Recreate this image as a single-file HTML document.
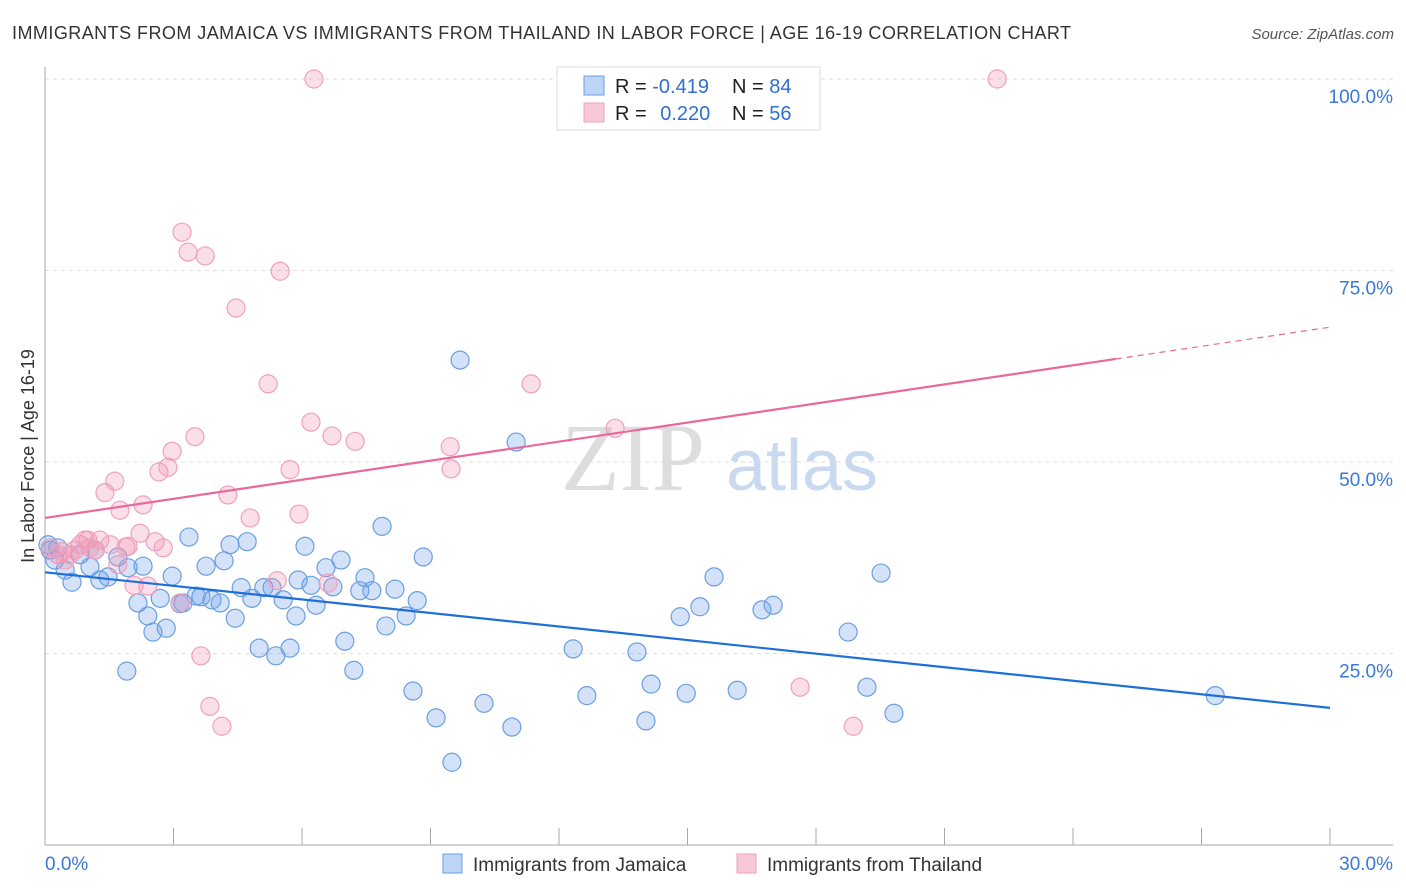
<!DOCTYPE html>
<html><head><meta charset="utf-8"><style>
body{margin:0;background:#fff;font-family:"Liberation Sans",sans-serif;}
#wrap{position:relative;width:1406px;height:892px;overflow:hidden;}
</style></head><body>
<div id="wrap">
<svg id="svg" width="1406" height="892" xmlns="http://www.w3.org/2000/svg">
<text x="12" y="39" font-size="18" fill="#333" textLength="1059" lengthAdjust="spacing">IMMIGRANTS FROM JAMAICA VS IMMIGRANTS FROM THAILAND IN LABOR FORCE | AGE 16-19 CORRELATION CHART</text>
<text x="1394" y="39" font-size="15" fill="#555" font-style="italic" text-anchor="end">Source: ZipAtlas.com</text>
<text x="633" y="490" font-size="96" fill="#ddd" font-family="Liberation Serif,serif" text-anchor="middle">ZIP</text>
<text x="802" y="490" font-size="72" fill="#c8d9f0" text-anchor="middle">atlas</text>
<g id="grid"></g><g id="axes"></g><g id="pts"></g><g id="lines"></g>
<text transform="translate(34,456) rotate(-90)" font-size="18" fill="#333" text-anchor="middle">In Labor Force | Age 16-19</text>
<rect x="557" y="67" width="263" height="63" fill="#fff" stroke="#ddd"/>
<rect x="584" y="76" width="20" height="19" fill="#bcd4f5" stroke="#6a9fe0"/>
<rect x="584" y="103" width="20" height="19" fill="#f8c8d8" stroke="#f0a0bc"/>
<text x="615" y="93" font-size="20" fill="#222">R = <tspan fill="#2f6fd0">-0.419</tspan></text>
<text x="732" y="93" font-size="20" fill="#222">N = <tspan fill="#2f6fd0">84</tspan></text>
<text x="615" y="120" font-size="20" fill="#222">R = <tspan fill="#2f6fd0" dx="8">0.220</tspan></text>
<text x="732" y="120" font-size="20" fill="#222">N = <tspan fill="#2f6fd0">56</tspan></text>
<rect x="443" y="854" width="19" height="19" fill="#bcd4f5" stroke="#6a9fe0"/>
<text x="473" y="871" font-size="19" fill="#333">Immigrants from Jamaica</text>
<rect x="737" y="854" width="19" height="19" fill="#f8c8d8" stroke="#f0a0bc"/>
<text x="767" y="871" font-size="19" fill="#333">Immigrants from Thailand</text>
</svg></div>
<script>
const yTicks=[25,50,75,100];
const yTickLabels=["25.0%","50.0%","75.0%","100.0%"];
const xTicks=[0,3,6,9,12,15,18,21,24,27,30];
const blueX=[0.12,0.23,0.47,0.63,0.82,1.05,1.28,1.47,1.70,1.94,1.91,2.17,2.29,2.40,2.52,2.69,2.83,2.97,3.15,3.22,3.36,3.53,3.64,3.76,3.90,4.09,4.18,4.32,4.44,4.58,4.72,4.83,5.00,5.11,5.30,5.39,5.56,5.72,5.86,5.91,6.07,6.21,6.33,6.56,6.72,6.91,7.00,7.21,7.35,7.47,7.63,7.87,7.96,8.17,8.43,8.59,8.69,8.83,9.13,9.50,10.25,10.90,11.00,9.69,12.33,12.65,13.82,14.03,14.15,14.83,14.97,15.29,15.62,16.16,16.74,17.00,18.75,19.19,19.52,19.82,27.32,0.07,0.30,1.17];
const blueY=[38.5,37.2,35.9,34.3,37.9,36.3,34.6,35.0,37.6,36.2,22.7,31.6,36.4,29.9,27.8,32.2,28.3,35.1,31.5,31.6,40.2,32.5,32.4,36.4,32.0,31.6,37.1,39.2,29.6,33.6,39.6,32.2,25.7,33.6,33.6,24.7,32.0,25.7,29.9,34.6,39.0,33.9,31.3,36.2,33.7,37.2,26.6,22.8,33.2,34.9,33.2,41.6,28.6,33.4,29.9,20.1,31.9,37.6,16.6,10.8,18.5,15.4,52.6,63.3,25.6,19.5,25.2,16.2,21.0,29.8,19.8,31.1,35.0,20.2,30.7,31.3,27.8,20.6,35.5,17.2,19.5,39.2,38.8,38.5];
const pinkX=[0.12,0.30,0.40,0.58,0.82,1.00,1.17,1.28,1.40,1.52,1.63,1.75,1.89,1.94,2.08,2.22,2.29,2.40,2.57,2.66,2.76,2.87,2.97,3.15,3.20,3.34,3.50,3.64,3.74,3.85,4.13,4.27,4.46,4.79,5.21,5.42,5.49,5.72,5.93,6.21,6.28,6.61,6.70,7.24,9.46,9.48,11.35,13.31,17.63,18.87,22.23,1.05,0.70,0.93,0.47,1.70];
const pinkY=[38.8,37.9,38.3,37.9,39.2,39.8,38.5,39.8,46.0,39.2,47.5,43.7,38.9,39.0,33.9,40.7,44.4,33.8,39.6,48.7,38.8,49.3,51.4,31.6,80.0,77.4,53.3,24.7,76.9,18.1,15.5,45.7,70.1,42.7,60.2,34.5,74.9,49.0,43.2,55.2,100,34.2,53.4,52.7,52.0,49.1,60.2,54.4,20.6,15.5,100,38.8,38.5,39.8,37.2,36.6];
const blueTrend=[35.6,17.9];
const pinkTrend=[42.7,67.6];
const pinkSolidEnd=25.0;
const NS="http://www.w3.org/2000/svg";
const X0=45,X1=1330,Y0=845,Y100=79;
const sx=v=>X0+(v/30)*(X1-X0);
const sy=v=>Y0-(v/100)*(Y0-Y100);
function mk(tag,attrs,parent){const e=document.createElementNS(NS,tag);for(const k in attrs)e.setAttribute(k,attrs[k]);document.getElementById(parent).appendChild(e);return e;}
yTicks.forEach((t,i)=>{
 const g=mk('line',{x1:45,x2:1393,y1:sy(t),y2:sy(t),stroke:'#ddd','stroke-dasharray':'4,4'},'grid');
 
 
 const l=mk('text',{x:1393,y:sy(t)+24,'font-size':19,fill:'#3b78d6','text-anchor':'end'},'grid');
 l.textContent=yTickLabels[i];
 
 
});
let a=mk('line',{x1:45,x2:45,y1:67,y2:845,stroke:'#aaa'},'axes');


a=mk('line',{x1:45,x2:1393,y1:845,y2:845,stroke:'#aaa'},'axes');


xTicks.forEach(t=>{
 const k=mk('line',{x1:sx(t),x2:sx(t),y1:828,y2:845,stroke:'#aaa'},'axes');
 
 
});
let xl=mk('text',{x:45,y:870,'font-size':19,fill:'#3b78d6'},'axes');xl.textContent='0.0%';


xl=mk('text',{x:1393,y:870,'font-size':19,fill:'#3b78d6','text-anchor':'end'},'axes');xl.textContent='30.0%';


function dots(xs,ys,fill,stroke,name){xs.forEach((x,i)=>{
 const c=mk('circle',{cx:sx(x),cy:sy(ys[i]),r:9,fill:fill,stroke:stroke,'stroke-width':1.2},'pts');
 
 
});}
dots(blueX,blueY,'rgba(110,160,235,0.3)','#6a9fe0','point-jamaica');
dots(pinkX,pinkY,'rgba(240,150,180,0.3)','#f0a0bc','point-thailand');
let ln=mk('line',{x1:sx(0),y1:sy(blueTrend[0]),x2:sx(30),y2:sy(blueTrend[1]),stroke:'#1f6fd6','stroke-width':2.2},'lines');


const pe=pinkTrend[0]+(pinkTrend[1]-pinkTrend[0])*pinkSolidEnd/30;
ln=mk('line',{x1:sx(0),y1:sy(pinkTrend[0]),x2:sx(pinkSolidEnd),y2:sy(pe),stroke:'#e8699a','stroke-width':2.2},'lines');


ln=mk('line',{x1:sx(pinkSolidEnd),y1:sy(pe),x2:sx(30),y2:sy(pinkTrend[1]),stroke:'#e8699a','stroke-width':1.2,'stroke-dasharray':'6,5'},'lines');


</script>
</body></html>
